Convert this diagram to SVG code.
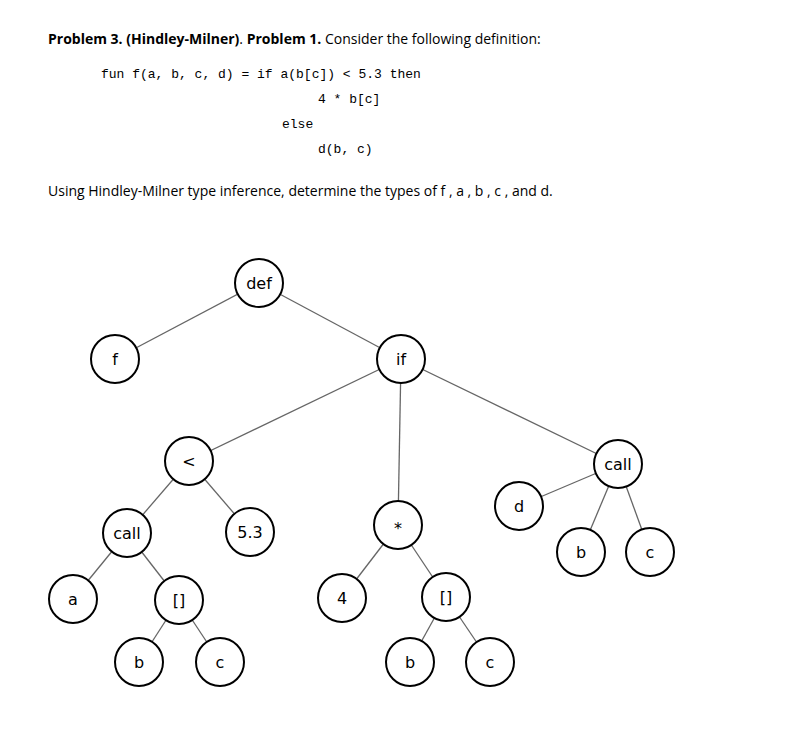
<svg xmlns="http://www.w3.org/2000/svg" width="788" height="746" viewBox="0 0 788 746">
<style>
.t{font-family:"Open Sans","Liberation Sans",sans-serif;font-size:14px;fill:#000}
.m{font-family:"Liberation Mono",monospace;font-size:13px;fill:#000}
.n circle{fill:#fff;stroke:#000;stroke-width:2}
.n text{font-family:"DejaVu Sans",sans-serif;font-size:16px;fill:#000;text-anchor:middle;dominant-baseline:central}
#edges line{stroke:#666;stroke-width:1.3}
</style>
<rect width="788" height="746" fill="#fff"/>
<text class="t" x="48" y="44"><tspan font-weight="bold">Problem 3. (Hindley-Milner)</tspan>. <tspan font-weight="bold">Problem 1.</tspan> Consider the following definition:</text>
<text class="m" x="101" y="78" xml:space="preserve">fun f(a, b, c, d) = if a(b[c]) &lt; 5.3 then</text>
<text class="m" x="318" y="103">4 * b[c]</text>
<text class="m" x="282" y="128">else</text>
<text class="m" x="318" y="153">d(b, c)</text>
<text class="t" x="48" y="196">Using Hindley-Milner type inference, determine the types of  f , a , b , c , and d.</text>
<g id="edges">
<line x1="259" y1="283" x2="115" y2="359"/>
<line x1="259" y1="283" x2="401" y2="359"/>
<line x1="401" y1="359" x2="189" y2="461"/>
<line x1="401" y1="359" x2="398" y2="525"/>
<line x1="401" y1="359" x2="618" y2="464"/>
<line x1="189" y1="461" x2="127" y2="533"/>
<line x1="189" y1="461" x2="250" y2="532"/>
<line x1="127" y1="533" x2="73" y2="599"/>
<line x1="127" y1="533" x2="179" y2="600"/>
<line x1="179" y1="600" x2="139" y2="662"/>
<line x1="179" y1="600" x2="220" y2="662"/>
<line x1="398" y1="525" x2="342" y2="598"/>
<line x1="398" y1="525" x2="446" y2="597"/>
<line x1="446" y1="597" x2="410" y2="662"/>
<line x1="446" y1="597" x2="490" y2="662"/>
<line x1="618" y1="464" x2="519" y2="506"/>
<line x1="618" y1="464" x2="581" y2="552"/>
<line x1="618" y1="464" x2="650" y2="552"/>
</g>
<g id="n-def" class="n"><circle cx="259" cy="283" r="24"/><text x="259" y="283">def</text></g>
<g id="n-f" class="n"><circle cx="115" cy="359" r="24"/><text x="115" y="359">f</text></g>
<g id="n-if" class="n"><circle cx="401" cy="359" r="24"/><text x="401" y="359">if</text></g>
<g id="n-lt" class="n"><circle cx="189" cy="461" r="24"/><text x="189" y="461">&lt;</text></g>
<g id="n-call1" class="n"><circle cx="127" cy="533" r="24"/><text x="127" y="533">call</text></g>
<g id="n-53" class="n"><circle cx="250" cy="532" r="24"/><text x="250" y="532">5.3</text></g>
<g id="n-a" class="n"><circle cx="73" cy="599" r="24"/><text x="73" y="599">a</text></g>
<g id="n-idx1" class="n"><circle cx="179" cy="600" r="24"/><text x="179" y="600">[]</text></g>
<g id="n-b1" class="n"><circle cx="139" cy="662" r="24"/><text x="139" y="662">b</text></g>
<g id="n-c1" class="n"><circle cx="220" cy="662" r="24"/><text x="220" y="662">c</text></g>
<g id="n-mul" class="n"><circle cx="398" cy="525" r="24"/><text x="398" y="528">*</text></g>
<g id="n-4" class="n"><circle cx="342" cy="598" r="24"/><text x="342" y="598">4</text></g>
<g id="n-idx2" class="n"><circle cx="446" cy="597" r="24"/><text x="446" y="597">[]</text></g>
<g id="n-b2" class="n"><circle cx="410" cy="662" r="24"/><text x="410" y="662">b</text></g>
<g id="n-c2" class="n"><circle cx="490" cy="662" r="24"/><text x="490" y="662">c</text></g>
<g id="n-d" class="n"><circle cx="519" cy="506" r="24"/><text x="519" y="506">d</text></g>
<g id="n-call2" class="n"><circle cx="618" cy="464" r="24"/><text x="618" y="464">call</text></g>
<g id="n-b3" class="n"><circle cx="581" cy="552" r="24"/><text x="581" y="552">b</text></g>
<g id="n-c3" class="n"><circle cx="650" cy="552" r="24"/><text x="650" y="552">c</text></g>
</svg>
